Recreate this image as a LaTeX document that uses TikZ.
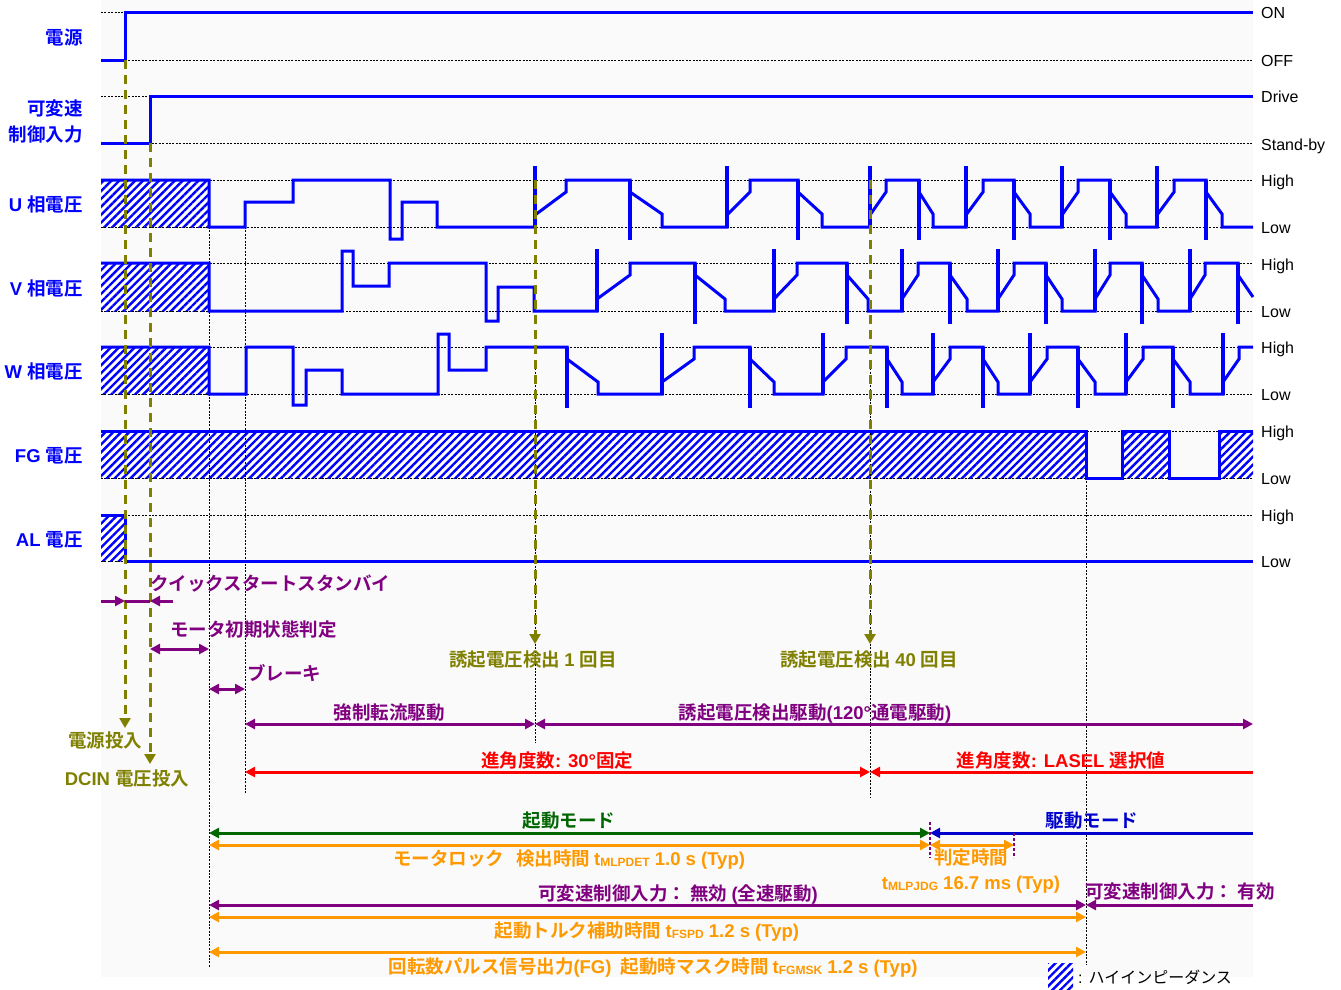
\documentclass[tikz,border=0pt]{standalone}
\usepackage{fontspec}
\setmainfont{Liberation Sans}
\newfontfamily\jp{Noto Sans CJK JP}[BoldFont={Noto Sans CJK JP Bold}]
\newfontfamily\lat{Liberation Sans}
\usetikzlibrary{arrows.meta,patterns.meta}
% automatic switch between Latin and CJK fonts
\XeTeXinterchartokenstate=1
\newXeTeXintercharclass\CJKc
\newcount\cjkcnt
\cjkcnt="3000 \loop \XeTeXcharclass\cjkcnt=\CJKc \advance\cjkcnt by 1 \ifnum\cjkcnt<"3100 \repeat
\cjkcnt="4E00 \loop \XeTeXcharclass\cjkcnt=\CJKc \advance\cjkcnt by 1 \ifnum\cjkcnt<"A000 \repeat
\cjkcnt="FF00 \loop \XeTeXcharclass\cjkcnt=\CJKc \advance\cjkcnt by 1 \ifnum\cjkcnt<"FF60 \repeat
\XeTeXinterchartoks 0 \CJKc = {\jp}
\XeTeXinterchartoks 4095 \CJKc = {\jp}
\XeTeXinterchartoks \CJKc 0 = {\lat}
\XeTeXinterchartoks 4095 0 = {\lat}
\newcommand\sbs[1]{\raisebox{-1.5pt}{\fontsize{12}{12}\selectfont #1}}
\definecolor{sig}{HTML}{0000FF}
\definecolor{pur}{HTML}{800080}
\definecolor{olv}{HTML}{808000}
\definecolor{org}{HTML}{FF9900}
\definecolor{grn}{HTML}{006600}
\definecolor{dblue}{HTML}{0000CC}
\definecolor{bgc}{HTML}{FAFAFA}
\begin{document}
\begin{tikzpicture}[x=1pt,y=-1pt,
  >={Triangle[length=10pt,width=10pt]},
  sigline/.style={draw=sig,line width=3pt},
  spk/.style={draw=sig,line width=4.5pt},
  grid/.style={draw=black,line width=0.9pt,dash pattern=on 2pt off 1.4pt},
  hatch/.style={preaction={fill=white},pattern={Lines[angle=45,distance=5.6pt,line width=2.4pt]},pattern color=sig},
  olvdash/.style={draw=olv,line width=3pt,dash pattern=on 9pt off 6pt},
  ann/.style={line width=3pt},
  lbl/.style={font=\fontsize{18.5}{20}\selectfont\bfseries,inner sep=0pt},
  rlbl/.style={font=\fontsize{16}{18}\selectfont,anchor=base west,inner sep=0pt}]
\useasboundingbox (0,0) rectangle (1341,989);
\fill[white] (0,0) rectangle (1341,989);
\fill[bgc] (101,0) rectangle (1253,977);

% hatched (high impedance) areas
\path[hatch] (101,180) rectangle (209,227);
\path[hatch] (101,263) rectangle (209,311);
\path[hatch] (101,347) rectangle (209,394);
\path[hatch] (101,431) rectangle (1086,478);
\path[hatch] (1122,431) rectangle (1169,478);
\path[hatch] (1219,431) rectangle (1253,478);
\path[hatch] (101,515) rectangle (125,561);

% level guide lines
\foreach \yy in {12,60,96,143,180,227,263,311,347,394,431,478,515,561}
  \draw[grid] (101,\yy) -- (1253,\yy);
% vertical timing guides
\draw[grid] (209,227) -- (209,968);
\draw[grid] (245,227) -- (245,793);
\draw[grid] (535,365) -- (535,743);
\draw[grid] (870,365) -- (870,798);
\draw[grid] (1086,478) -- (1086,965);

% signals
\draw[sigline] (101,60) -- (125,60) -- (125,12) -- (1253,12);
\draw[sigline] (101,143) -- (150,143) -- (150,96) -- (1253,96);
\draw[sigline] (101,180) -- (209,180) -- (209,227) -- (245,227) -- (245,202) -- (293,202) -- (293,180) -- (390,180) -- (390,239) -- (402,239) -- (402,202) -- (437,202) -- (437,227) -- (535,227) -- (535,215) -- (566,192) -- (566,180) -- (630,180) -- (630,192) -- (662,214) -- (662,227) -- (727,227) -- (727,215) -- (750,192) -- (750,180) -- (798,180) -- (798,192) -- (822,214) -- (822,227) -- (870,227) -- (870,215) -- (886,192) -- (886,180) -- (919,180) -- (919,192) -- (933,214) -- (933,227) -- (966,227) -- (966,215) -- (983,192) -- (983,180) -- (1014,180) -- (1014,192) -- (1030,214) -- (1030,227) -- (1062,227) -- (1062,215) -- (1078,192) -- (1078,180) -- (1110,180) -- (1110,192) -- (1126,214) -- (1126,227) -- (1157,227) -- (1157,215) -- (1174,192) -- (1174,180) -- (1206,180) -- (1206,192) -- (1222,214) -- (1222,227) -- (1253,227);
\draw[sigline] (101,263) -- (209,263) -- (209,311) -- (342,311) -- (342,251) -- (353,251) -- (353,286) -- (389,286) -- (389,263) -- (486,263) -- (486,321) -- (498,321) -- (498,287) -- (534,287) -- (534,311) -- (597,311) -- (597,299) -- (630,275) -- (630,263) -- (695,263) -- (695,275) -- (725,299) -- (725,311) -- (774,311) -- (774,299) -- (797,275) -- (797,263) -- (847,263) -- (847,275) -- (868,299) -- (868,311) -- (902,311) -- (902,299) -- (918,275) -- (918,263) -- (950,263) -- (950,275) -- (967,299) -- (967,311) -- (998,311) -- (998,299) -- (1014,275) -- (1014,263) -- (1046,263) -- (1046,275) -- (1062,299) -- (1062,311) -- (1095,311) -- (1095,299) -- (1110,275) -- (1110,263) -- (1142,263) -- (1142,275) -- (1158,299) -- (1158,311) -- (1190,311) -- (1190,299) -- (1205,275) -- (1205,263) -- (1238,263) -- (1238,275) -- (1253,297);
\draw[sigline] (101,347) -- (209,347) -- (209,394) -- (246,394) -- (246,347) -- (293,347) -- (293,405) -- (306,405) -- (306,370) -- (342,370) -- (342,394) -- (438,394) -- (438,334) -- (449,334) -- (449,370) -- (486,370) -- (486,347) -- (567,347) -- (567,359) -- (598,382) -- (598,394) -- (662,394) -- (662,382) -- (694,359) -- (694,347) -- (750,347) -- (750,359) -- (774,382) -- (774,394) -- (823,394) -- (823,382) -- (846,359) -- (846,347) -- (887,347) -- (887,359) -- (902,382) -- (902,394) -- (933,394) -- (933,382) -- (950,359) -- (950,347) -- (983,347) -- (983,359) -- (998,382) -- (998,394) -- (1030,394) -- (1030,382) -- (1047,359) -- (1047,347) -- (1078,347) -- (1078,359) -- (1095,382) -- (1095,394) -- (1126,394) -- (1126,382) -- (1143,359) -- (1143,347) -- (1173,347) -- (1173,359) -- (1190,382) -- (1190,394) -- (1223,394) -- (1223,382) -- (1239,359) -- (1239,347) -- (1253,347);
\draw[sigline] (101,431) -- (1086,431) -- (1086,478) -- (1122,478) -- (1122,431) -- (1169,431) -- (1169,478) -- (1219,478) -- (1219,431) -- (1253,431);
\draw[sigline] (101,515) -- (125,515) -- (125,561) -- (1253,561);
% spikes
\foreach \x in {535,727,870,966,1062,1157} \draw[spk] (\x,227) -- (\x,166);
\foreach \x in {630,798,919,1014,1110,1206} \draw[spk] (\x,180) -- (\x,240);
\foreach \x in {597,774,902,998,1095,1190} \draw[spk] (\x,311) -- (\x,249);
\foreach \x in {695,847,950,1046,1142,1238} \draw[spk] (\x,263) -- (\x,324);
\foreach \x in {567,750,887,983,1078,1173} \draw[spk] (\x,347) -- (\x,408);
\foreach \x in {662,823,933,1030,1126,1223} \draw[spk] (\x,394) -- (\x,333);

% olive event markers
\coordinate (pw0) at (125,60);  \coordinate (pw1) at (125,728);
\coordinate (dc0) at (150,143); \coordinate (dc1) at (150,764);
\coordinate (d10) at (535,180); \coordinate (d11) at (535,644);
\coordinate (d40) at (870,180); \coordinate (d41) at (870,644);
\draw[olvdash,-{Triangle[length=10pt,width=11pt]}] (pw0) -- (pw1);
\draw[olvdash,-{Triangle[length=10pt,width=11pt]}] (dc0) -- (dc1);
\draw[olvdash,-{Triangle[length=10pt,width=11pt]}] (d10) -- (d11);
\draw[olvdash,-{Triangle[length=10pt,width=11pt]}] (d40) -- (d41);

% signal names
\begin{scope}[lbl,text=sig]
\node[anchor=base east] (nPow) at (83,44) {電源};
\node[anchor=base east] (nSp1) at (83,115) {可変速};
\node[anchor=base east] (nSp2) at (83,141) {制御入力};
\node[anchor=base east] (nU) at (83,211) {U 相電圧};
\node[anchor=base east] (nV) at (83,295) {V 相電圧};
\node[anchor=base east] (nW) at (83,378) {W 相電圧};
\node[anchor=base east] (nFG) at (83,462) {FG 電圧};
\node[anchor=base east] (nAL) at (83,546) {AL 電圧};
\end{scope}
% level names
\node[rlbl] (r1) at (1261,18) {ON};
\node[rlbl] (r2) at (1261,66) {OFF};
\node[rlbl] (r3) at (1261,102) {Drive};
\node[rlbl] (r4) at (1261,150) {Stand-by};
\foreach \yy/\nm in {186/High,233/Low,270/High,317/Low,353/High,400/Low,437/High,484/Low,521/High,567/Low}
  \node[rlbl] at (1261,\yy) {\nm};

% annotations
\node[lbl,anchor=base west,text=pur] (qs) at (150,590) {クイックスタートスタンバイ};
\draw[pur,ann,->] (101,601) -- (125,601);
\draw[pur,ann] (125,601) -- (150,601);
\draw[pur,ann,->] (173,601) -- (150,601);
\node[lbl,anchor=base west,text=pur] (mi) at (170,636) {モータ初期状態判定};
\draw[pur,ann,<->] (150,649) -- (209,649);
\node[lbl,anchor=base west,text=pur] (br) at (247,680) {ブレーキ};
\draw[pur,ann,<->] (209,689) -- (245,689);
\node[lbl,anchor=base,text=olv] (ev1) at (533,666) {誘起電圧検出 1 回目};
\node[lbl,anchor=base,text=olv] (ev40) at (869,666) {誘起電圧検出 40 回目};
\node[lbl,anchor=base,text=pur] (fd) at (389,719) {強制転流駆動};
\draw[pur,ann,<->] (245,724) -- (535,724);
\node[lbl,anchor=base,text=pur] (id) at (815,719) {誘起電圧検出駆動(120°通電駆動)};
\draw[pur,ann,<->] (535,724) -- (1253,724);
\node[lbl,anchor=base,text=olv] (pwin) at (105,747) {電源投入};
\node[lbl,anchor=base,text=olv] (dcin) at (127,785) {DCIN 電圧投入};
\node[lbl,anchor=base,text=red] (ad1) at (557,767) {進角度数: 30°固定};
\draw[red,ann,<->] (245,772) -- (870,772);
\node[lbl,anchor=base,text=red] (ad2) at (1061,767) {進角度数: LASEL 選択値};
\draw[red,ann,<-] (870,772) -- (1253,772);
\node[lbl,anchor=base,text=grn] (sm) at (569,827) {起動モード};
\draw[grn,ann,<->] (209,833) -- (930,833);
\node[lbl,anchor=base,text=dblue] (dm) at (1092,827) {駆動モード};
\draw[dblue,ann,<-] (930,833) -- (1253,833);
\draw[pur,line width=1.3pt,dash pattern=on 3pt off 2pt] (930,822) -- (930,858);
\draw[pur,line width=1.3pt,dash pattern=on 3pt off 2pt] (1014,833) -- (1014,858);
\draw[org,ann,<->] (209,845) -- (930,845);
\draw[org,ann,<->] (930,845) -- (1014,845);
\node[lbl,anchor=base,text=org] (ml) at (569,865) {モータロック\hspace{12pt}検出時間 t\sbs{MLPDET} 1.0 s (Typ)};
\node[lbl,anchor=base,text=org] (jt) at (971,864) {判定時間};
\node[lbl,anchor=base,text=org] (jt2) at (971,889) {t\sbs{MLPJDG} 16.7 ms (Typ)};
\node[lbl,anchor=base,text=pur] (vs1) at (678,900) {可変速制御入力： 無効 (全速駆動)};
\draw[pur,ann,<->] (209,905) -- (1086,905);
\node[lbl,anchor=base,text=pur] (vs2) at (1180,898) {可変速制御入力： 有効};
\draw[pur,ann,<-] (1086,905) -- (1253,905);
\draw[org,ann,<->] (209,917) -- (1086,917);
\node[lbl,anchor=base,text=org] (tq) at (647,937) {起動トルク補助時間 t\sbs{FSPD} 1.2 s (Typ)};
\draw[org,ann,<->] (209,952) -- (1086,952);
\node[lbl,anchor=base,text=org] (fm) at (653,973) {回転数パルス信号出力(FG)\hspace{9pt}起動時マスク時間 t\sbs{FGMSK} 1.2 s (Typ)};

% legend
\path[hatch] (1048,963) rectangle (1073,989);
\node[anchor=base west,inner sep=0pt,font=\fontsize{16}{18}\selectfont] (lg) at (1078,983) {: ハイインピーダンス};
\end{tikzpicture}
\end{document}
